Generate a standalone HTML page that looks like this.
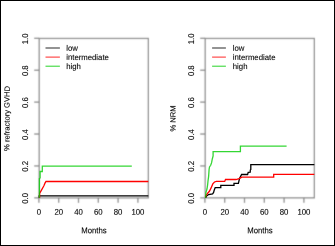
<!DOCTYPE html>
<html><head><meta charset="utf-8"><style>
html,body{margin:0;padding:0;background:#fff;}
svg{display:block;-webkit-font-smoothing:antialiased;will-change:transform;}
text{text-rendering:geometricPrecision;font-family:"Liberation Sans",sans-serif;font-size:7.75px;fill:#000;stroke:#000;stroke-opacity:0.25;stroke-width:0.4px;paint-order:stroke;}
</style></head><body>
<svg width="335" height="246" viewBox="0 0 335 246">
<defs><filter id="cb" x="0" y="0" width="335" height="246" filterUnits="userSpaceOnUse"><feConvolveMatrix order="3" kernelMatrix="0.025 0.1 0.025 0.1 0.5 0.1 0.025 0.1 0.025" edgeMode="none" preserveAlpha="false"/></filter></defs>
<rect x="0" y="0" width="335" height="246" fill="#fff"/>
<g filter="url(#cb)">
<rect x="2" y="2" width="331" height="242" fill="#fff"/>
<rect x="39.2" y="38.449999999999996" width="109.14999999999999" height="159.4" fill="none" stroke="#8a8a8a" stroke-width="1.3"/>
<line x1="34.2" y1="197.85" x2="39.2" y2="197.85" stroke="#8a8a8a" stroke-width="1.3"/>
<line x1="34.2" y1="165.94" x2="39.2" y2="165.94" stroke="#8a8a8a" stroke-width="1.3"/>
<line x1="34.2" y1="134.03" x2="39.2" y2="134.03" stroke="#8a8a8a" stroke-width="1.3"/>
<line x1="34.2" y1="102.12" x2="39.2" y2="102.12" stroke="#8a8a8a" stroke-width="1.3"/>
<line x1="34.2" y1="70.21" x2="39.2" y2="70.21" stroke="#8a8a8a" stroke-width="1.3"/>
<line x1="34.2" y1="38.30" x2="39.2" y2="38.30" stroke="#8a8a8a" stroke-width="1.3"/>
<line x1="38.90" y1="197.85" x2="38.90" y2="202.85" stroke="#8a8a8a" stroke-width="1.3"/>
<line x1="58.70" y1="197.85" x2="58.70" y2="202.85" stroke="#8a8a8a" stroke-width="1.3"/>
<line x1="78.50" y1="197.85" x2="78.50" y2="202.85" stroke="#8a8a8a" stroke-width="1.3"/>
<line x1="98.30" y1="197.85" x2="98.30" y2="202.85" stroke="#8a8a8a" stroke-width="1.3"/>
<line x1="118.10" y1="197.85" x2="118.10" y2="202.85" stroke="#8a8a8a" stroke-width="1.3"/>
<line x1="137.90" y1="197.85" x2="137.90" y2="202.85" stroke="#8a8a8a" stroke-width="1.3"/>
<rect x="205.2" y="38.449999999999996" width="109.15000000000003" height="159.4" fill="none" stroke="#8a8a8a" stroke-width="1.3"/>
<line x1="200.2" y1="197.85" x2="205.2" y2="197.85" stroke="#8a8a8a" stroke-width="1.3"/>
<line x1="200.2" y1="165.94" x2="205.2" y2="165.94" stroke="#8a8a8a" stroke-width="1.3"/>
<line x1="200.2" y1="134.03" x2="205.2" y2="134.03" stroke="#8a8a8a" stroke-width="1.3"/>
<line x1="200.2" y1="102.12" x2="205.2" y2="102.12" stroke="#8a8a8a" stroke-width="1.3"/>
<line x1="200.2" y1="70.21" x2="205.2" y2="70.21" stroke="#8a8a8a" stroke-width="1.3"/>
<line x1="200.2" y1="38.30" x2="205.2" y2="38.30" stroke="#8a8a8a" stroke-width="1.3"/>
<line x1="204.90" y1="197.85" x2="204.90" y2="202.85" stroke="#8a8a8a" stroke-width="1.3"/>
<line x1="224.70" y1="197.85" x2="224.70" y2="202.85" stroke="#8a8a8a" stroke-width="1.3"/>
<line x1="244.50" y1="197.85" x2="244.50" y2="202.85" stroke="#8a8a8a" stroke-width="1.3"/>
<line x1="264.30" y1="197.85" x2="264.30" y2="202.85" stroke="#8a8a8a" stroke-width="1.3"/>
<line x1="284.10" y1="197.85" x2="284.10" y2="202.85" stroke="#8a8a8a" stroke-width="1.3"/>
<line x1="303.90" y1="197.85" x2="303.90" y2="202.85" stroke="#8a8a8a" stroke-width="1.3"/>
</g>
<line x1="45.5" y1="48.0" x2="59.9" y2="48.0" stroke="#000" stroke-width="0.85"/>
<line x1="45.5" y1="57.1" x2="59.9" y2="57.1" stroke="#f00" stroke-width="0.85"/>
<line x1="45.5" y1="66.2" x2="59.9" y2="66.2" stroke="#0c0" stroke-width="0.85"/>
<path d="M39.20,197.70 L39.20,195.80 L148.35,195.80" fill="none" stroke="#000" stroke-width="1.3" stroke-linejoin="miter"/>
<path d="M39.60,197.70 L39.60,193.50 L41.90,189.40 L43.90,185.70 L45.10,182.90 L46.00,181.50 L148.35,181.50" fill="none" stroke="#f00" stroke-width="1.3" stroke-linejoin="miter"/>
<path d="M39.40,197.70 L39.40,178.50 L40.10,178.00 L40.10,171.50 L42.30,171.50 L42.30,166.10 L131.80,166.10" fill="none" stroke="#0c0" stroke-opacity="0.8" stroke-width="1.3" stroke-linejoin="miter"/>
<line x1="212.1" y1="48.0" x2="225.9" y2="48.0" stroke="#000" stroke-width="0.85"/>
<line x1="212.1" y1="57.1" x2="225.9" y2="57.1" stroke="#f00" stroke-width="0.85"/>
<line x1="212.1" y1="66.2" x2="225.9" y2="66.2" stroke="#0c0" stroke-width="0.85"/>
<path d="M205.60,197.70 L206.30,196.40 L207.30,195.40 L208.60,194.50 L212.60,193.90 L213.60,192.50 L214.20,190.20 L215.20,187.60 L215.60,187.60 L220.80,187.60 L220.80,185.40 L234.00,185.40 L234.00,183.30 L238.40,183.30 L239.50,178.60 L241.60,174.50 L247.60,174.50 L248.20,172.40 L250.20,172.20 L250.30,170.10 L250.80,169.60 L250.80,164.65 L314.35,164.65" fill="none" stroke="#000" stroke-width="1.3" stroke-linejoin="miter"/>
<path d="M205.40,197.30 L205.80,196.00 L207.70,193.20 L209.40,191.30 L211.10,187.90 L212.80,183.90 L214.50,182.00 L216.40,181.40 L224.70,181.40 L225.50,179.50 L236.00,179.50 L239.00,178.60 L241.90,177.10 L273.70,177.10 L273.70,174.40 L314.35,174.40" fill="none" stroke="#f00" stroke-width="1.3" stroke-linejoin="miter"/>
<path d="M205.60,197.80 L205.90,192.50 L207.00,189.00 L207.60,185.00 L208.00,181.00 L208.60,176.70 L209.10,169.40 L209.50,167.00 L210.70,165.30 L211.60,162.70 L212.30,159.00 L213.10,156.00 L213.10,151.60 L240.40,151.60 L240.40,146.20 L286.60,146.20" fill="none" stroke="#0c0" stroke-opacity="0.8" stroke-width="1.3" stroke-linejoin="miter"/>
<text transform="translate(28.00,198.35) rotate(-89.7) scale(1,1.08)" text-anchor="middle">0.0</text>
<text transform="translate(28.00,166.44) rotate(-89.7) scale(1,1.08)" text-anchor="middle">0.2</text>
<text transform="translate(28.00,134.53) rotate(-89.7) scale(1,1.08)" text-anchor="middle">0.4</text>
<text transform="translate(28.00,102.62) rotate(-89.7) scale(1,1.08)" text-anchor="middle">0.6</text>
<text transform="translate(28.00,70.71) rotate(-89.7) scale(1,1.08)" text-anchor="middle">0.8</text>
<text transform="translate(28.00,38.80) rotate(-89.7) scale(1,1.08)" text-anchor="middle">1.0</text>
<text transform="translate(38.90,214.70) rotate(0.3) scale(1,1.08)" text-anchor="middle">0</text>
<text transform="translate(58.70,214.70) rotate(0.3) scale(1,1.08)" text-anchor="middle">20</text>
<text transform="translate(78.50,214.70) rotate(0.3) scale(1,1.08)" text-anchor="middle">40</text>
<text transform="translate(98.30,214.70) rotate(0.3) scale(1,1.08)" text-anchor="middle">60</text>
<text transform="translate(118.10,214.70) rotate(0.3) scale(1,1.08)" text-anchor="middle">80</text>
<text transform="translate(137.90,214.70) rotate(0.3) scale(1,1.08)" text-anchor="middle">100</text>
<text transform="translate(93.98,233.30) rotate(0.3) scale(1,1.08)" text-anchor="middle">Months</text>
<text transform="translate(9.50,118.45) rotate(-89.7)" text-anchor="middle" style="font-size:7.6px">% refractory GVHD</text>
<text transform="translate(66.20,50.75) rotate(0.3) scale(1,1.03)">low</text>
<text transform="translate(66.20,59.85) rotate(0.3) scale(1,1.03)">intermediate</text>
<text transform="translate(66.20,68.95) rotate(0.3) scale(1,1.03)">high</text>
<text transform="translate(194.00,198.35) rotate(-89.7) scale(1,1.08)" text-anchor="middle">0.0</text>
<text transform="translate(194.00,166.44) rotate(-89.7) scale(1,1.08)" text-anchor="middle">0.2</text>
<text transform="translate(194.00,134.53) rotate(-89.7) scale(1,1.08)" text-anchor="middle">0.4</text>
<text transform="translate(194.00,102.62) rotate(-89.7) scale(1,1.08)" text-anchor="middle">0.6</text>
<text transform="translate(194.00,70.71) rotate(-89.7) scale(1,1.08)" text-anchor="middle">0.8</text>
<text transform="translate(194.00,38.80) rotate(-89.7) scale(1,1.08)" text-anchor="middle">1.0</text>
<text transform="translate(204.90,214.70) rotate(0.3) scale(1,1.08)" text-anchor="middle">0</text>
<text transform="translate(224.70,214.70) rotate(0.3) scale(1,1.08)" text-anchor="middle">20</text>
<text transform="translate(244.50,214.70) rotate(0.3) scale(1,1.08)" text-anchor="middle">40</text>
<text transform="translate(264.30,214.70) rotate(0.3) scale(1,1.08)" text-anchor="middle">60</text>
<text transform="translate(284.10,214.70) rotate(0.3) scale(1,1.08)" text-anchor="middle">80</text>
<text transform="translate(303.90,214.70) rotate(0.3) scale(1,1.08)" text-anchor="middle">100</text>
<text transform="translate(259.97,233.30) rotate(0.3) scale(1,1.08)" text-anchor="middle">Months</text>
<text transform="translate(175.50,118.45) rotate(-89.7)" text-anchor="middle" style="font-size:7.6px">% NRM</text>
<text transform="translate(232.80,50.75) rotate(0.3) scale(1,1.03)">low</text>
<text transform="translate(232.80,59.85) rotate(0.3) scale(1,1.03)">intermediate</text>
<text transform="translate(232.80,68.95) rotate(0.3) scale(1,1.03)">high</text>
<rect x="0.5" y="0.5" width="334" height="245" fill="none" stroke="#000" stroke-width="1"/>
</svg>
</body></html>
